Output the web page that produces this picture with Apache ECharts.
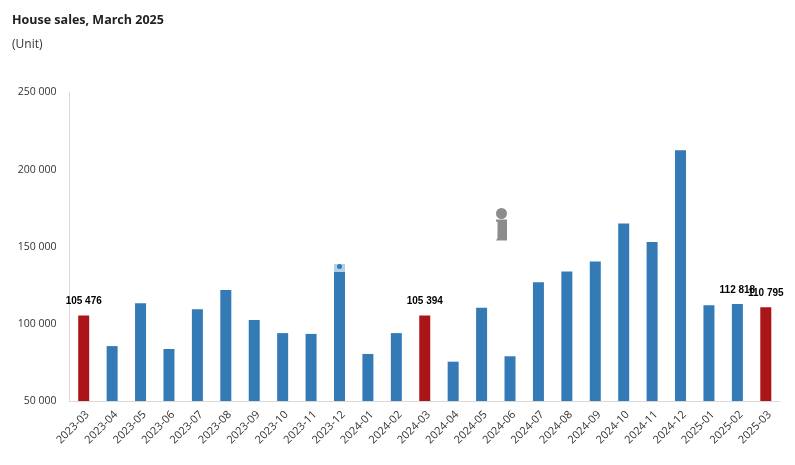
<!DOCTYPE html>
<html><head><meta charset="utf-8">
<style>html,body{margin:0;padding:0;background:#fff}#c{width:795px;height:465px}</style>
<script src="https://cdn.jsdelivr.net/npm/echarts@6/dist/echarts.min.js"></script>
</head><body><div id="c"></div>
<script>
const categories = ['2023-03','2023-04','2023-05','2023-06','2023-07','2023-08','2023-09','2023-10','2023-11','2023-12','2024-01','2024-02','2024-03','2024-04','2024-05','2024-06','2024-07','2024-08','2024-09','2024-10','2024-11','2024-12','2025-01','2025-02','2025-03'];
const sales = [105476,85600,113400,83700,109500,122000,102500,94000,93500,138000,80500,94000,105394,75500,110500,79000,127000,134000,140500,165000,153000,212500,112000,112818,110795];
const highlighted = ['2023-03','2024-03','2025-03'];
const labelled = ['2023-03','2024-03','2025-02','2025-03'];
const blue = '#337ab7', red = '#ab1519';
const fmt = v => String(v).replace(/\B(?=(\d{3})+$)/g, ' ');
const chart = echarts.init(document.getElementById('c'), null, {renderer:'canvas'});
chart.setOption({
  animation:false,
  backgroundColor:'#fff',
  title:{text:'House sales, March 2025',subtext:'(Unit)',left:12,top:12,itemGap:7,padding:0,
    textStyle:{fontFamily:'Open Sans',fontSize:12.5,fontWeight:'bold',color:'#222',lineHeight:17},
    subtextStyle:{fontFamily:'Open Sans',fontSize:12,color:'#333',lineHeight:17}},
  grid:{left:69.5,right:15,top:92.5,bottom:64,containLabel:false},
  xAxis:{type:'category',data:categories,boundaryGap:true,
    axisTick:{show:false},axisLine:{lineStyle:{color:'#d9d9d9',width:1}},
    axisLabel:{rotate:45,interval:0,margin:8,verticalAlign:'top',fontFamily:'Open Sans',fontSize:11,color:'#333'},
    splitLine:{show:false}},
  yAxis:{type:'value',min:50000,max:250000,interval:50000,
    axisLine:{show:true,lineStyle:{color:'#d9d9d9',width:1}},axisTick:{show:false},splitLine:{show:false},
    axisLabel:{margin:13,padding:[2,0,0,0],fontFamily:'Open Sans',fontSize:10.5,color:'#333',formatter:fmt}},
  series:[{type:'bar',barWidth:11,
    data:categories.map((c,i)=>({value:sales[i],
      itemStyle:{color:highlighted.includes(c)?red:blue},
      label:{show:labelled.includes(c)}})),
    label:{position:'top',distance:9,fontFamily:'Liberation Sans',fontSize:10,fontWeight:'bold',color:'#000',
      formatter:p=>fmt(p.value)}}],
  graphic:[
    {type:'circle',shape:{cx:501.5,cy:213.5,r:5.5},style:{fill:'#8c8c8c'},z:10},
    {type:'polygon',shape:{points:[[496,219.5],[507,219.5],[507,240.5],[496,240.5],[497.5,238],[497.5,222],[496,221.5]]},style:{fill:'#8c8c8c'},z:10},
    {type:'rect',shape:{x:334,y:264,width:11,height:8},style:{fill:'#b4d0e8'},z:10},
    {type:'circle',shape:{cx:339.5,cy:266.5,r:2.5},style:{fill:'#337ab7'},z:11}
  ]
});
</script></body></html>
